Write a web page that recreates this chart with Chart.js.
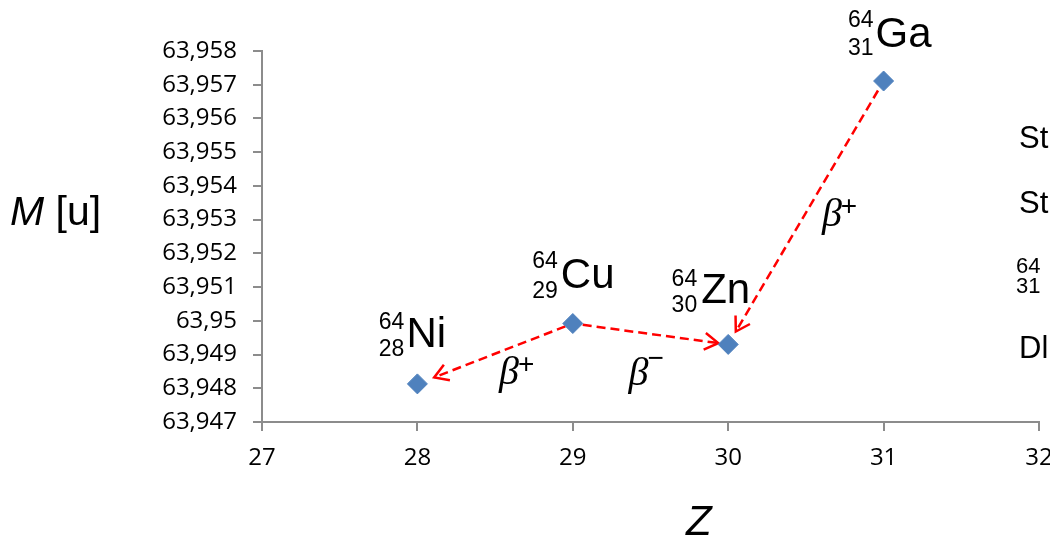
<!DOCTYPE html>
<html><head><meta charset="utf-8">
<script src="https://cdn.jsdelivr.net/npm/chart.js@4"></script>
<style>html,body{margin:0;padding:0;background:#fff;} #wrap{width:1050px;height:537px;position:relative;}</style>
</head><body><div id="wrap"><canvas id="c"></canvas></div>
<script>
// ---- data ----
const elements = ['Ni', 'Cu', 'Zn', 'Ga'];
const protonNumbers = [28, 29, 30, 31];
const massNumbers = [64, 64, 64, 64];
const atomicMasses = [63.94813, 63.94992, 63.94930, 63.95711];
const yTickValues = [63.947, 63.948, 63.949, 63.950, 63.951, 63.952, 63.953, 63.954, 63.955, 63.956, 63.957, 63.958];
const yTickLabels = ['63,947', '63,948', '63,949', '63,95', '63,951', '63,952', '63,953', '63,954', '63,955', '63,956', '63,957', '63,958'];
const xTickLabels = ['27', '28', '29', '30', '31', '32'];
const decayFrom = [1, 1, 3];
const decayTo = [0, 2, 2];
const decaySigns = ['+', '\u2212', '+'];
const sideTexts = ['St', 'St', '64', '31', 'Dl'];

// ---- styles (pixel offsets) ----
const labelStyle = [
  {sx: -11, sy: -37, nx: -13, ay: -55, zy: -28},
  {sx: -12, sy: -36, nx: -15, ay: -56, zy: -26},
  {sx: -27, sy: -41, nx: -31, ay: -58, zy: -32},
  {sx: -8, sy: -34, nx: -10, ay: -54, zy: -26}
];
const arrowStyle = [
  {start: 8, end: 18, bx: 4, by: 30},
  {start: 10, end: 10, bx: -22, by: 51},
  {start: 11, end: 15, bx: 16, by: 13}
];
const SANS = '"Liberation Sans", Arial, sans-serif';
const SERIF = '"Liberation Serif", "Times New Roman", serif';
const TICKFONT = 'Open Sans';
const AXIS = '#8C8C8C';

const annot = {
  id: 'annot',
  beforeDatasetsDraw(chart) {
    const ctx = chart.ctx, xs = chart.scales.x, ys = chart.scales.y;
    const px = i => [xs.getPixelForValue(protonNumbers[i]), ys.getPixelForValue(atomicMasses[i])];
    ctx.save();
    ctx.strokeStyle = '#FF0000';
    ctx.lineWidth = 2.5;
    decayFrom.forEach((f, k) => {
      const [x1, y1] = px(f), [x2, y2] = px(decayTo[k]);
      const dx = x2 - x1, dy = y2 - y1, L = Math.hypot(dx, dy), ux = dx / L, uy = dy / L;
      const st = arrowStyle[k];
      const sx = x1 + ux * st.start, sy = y1 + uy * st.start;
      const ex = x2 - ux * st.end, ey = y2 - uy * st.end;
      ctx.setLineDash([9, 5]);
      ctx.beginPath(); ctx.moveTo(sx, sy); ctx.lineTo(ex, ey); ctx.stroke();
      ctx.setLineDash([]);
      const a = Math.atan2(-uy, -ux);
      ctx.beginPath();
      ctx.moveTo(ex + 16 * Math.cos(a + 0.55), ey + 16 * Math.sin(a + 0.55));
      ctx.lineTo(ex, ey);
      ctx.lineTo(ex + 16 * Math.cos(a - 0.55), ey + 16 * Math.sin(a - 0.55));
      ctx.stroke();
      // beta label
      const mx = (x1 + x2) / 2 + st.bx, my = (y1 + y2) / 2 + st.by;
      ctx.fillStyle = '#000';
      ctx.textAlign = 'left'; ctx.textBaseline = 'alphabetic';
      ctx.font = 'italic 40px ' + SERIF;
      ctx.fillText('\u03B2', mx, my);
      const w = ctx.measureText('\u03B2').width;
      ctx.font = '28px ' + SANS;
      ctx.fillText(decaySigns[k], mx + w - 1, my - (decaySigns[k] === '+' ? 11 : 18));
    });
    ctx.restore();
  },
  afterDatasetsDraw(chart) {
    const ctx = chart.ctx, xs = chart.scales.x, ys = chart.scales.y;
    ctx.save();
    ctx.fillStyle = '#000';
    ctx.textBaseline = 'alphabetic';
    elements.forEach((el, i) => {
      const x = xs.getPixelForValue(protonNumbers[i]), y = ys.getPixelForValue(atomicMasses[i]);
      const o = labelStyle[i];
      ctx.font = '42px ' + SANS; ctx.textAlign = 'left';
      ctx.fillText(el, x + o.sx, y + o.sy);
      ctx.font = '23px ' + SANS; ctx.textAlign = 'right';
      ctx.fillText(String(massNumbers[i]), x + o.nx, y + o.ay);
      ctx.fillText(String(protonNumbers[i]), x + o.nx, y + o.zy);
    });
    // axis titles
    ctx.textAlign = 'left';
    ctx.font = 'italic 41px ' + SANS;
    ctx.fillText('M', 10, 225);
    const mw = ctx.measureText('M').width;
    ctx.font = '41px ' + SANS;
    ctx.fillText(' [u]', 10 + mw, 225);
    ctx.font = 'italic 42px ' + SANS;
    ctx.fillText('Z', 686, 535);
    // clipped legend text on the right
    ctx.font = '31px ' + SANS;
    ctx.fillText(sideTexts[0], 1019, 148);
    ctx.fillText(sideTexts[1], 1019, 213);
    ctx.font = '22px ' + SANS;
    ctx.fillText(sideTexts[2], 1016, 273);
    ctx.fillText(sideTexts[3], 1016, 293);
    ctx.font = '31px ' + SANS;
    ctx.fillText(sideTexts[4], 1019, 358);
    ctx.restore();
  }
};

new Chart(document.getElementById('c'), {
  type: 'scatter',
  data: {
    datasets: [{
      data: protonNumbers.map((z, i) => ({x: z, y: atomicMasses[i]})),
      pointStyle: 'rectRot',
      pointRadius: 10,
      pointHoverRadius: 10,
      backgroundColor: '#4F81BD',
      borderColor: '#4F81BD',
      borderWidth: 1
    }]
  },
  options: {
    responsive: true,
    maintainAspectRatio: false,
    animation: false,
    events: [],
    layout: {padding: {top: 51, right: 11, bottom: 0, left: 0}},
    plugins: {legend: {display: false}, tooltip: {enabled: false}},
    scales: {
      x: {
        type: 'linear', position: 'bottom',
        min: Number(xTickLabels[0]), max: Number(xTickLabels[xTickLabels.length - 1]),
        afterBuildTicks: s => { s.ticks = xTickLabels.map(t => ({value: Number(t)})); },
        ticks: {callback: (v, i) => xTickLabels[i], font: {family: TICKFONT, size: 24}, color: '#000', padding: 13, maxRotation: 0, autoSkip: false},
        grid: {drawOnChartArea: false, drawTicks: true, tickLength: 9, color: AXIS, lineWidth: 2},
        border: {color: AXIS, width: 2},
        afterFit: s => { s.height = 115; s.paddingLeft = 0; s.paddingRight = 0; }
      },
      y: {
        type: 'linear', position: 'left',
        min: yTickValues[0], max: yTickValues[yTickValues.length - 1],
        afterBuildTicks: s => { s.ticks = yTickValues.map(v => ({value: v})); },
        ticks: {callback: (v, i) => yTickLabels[i], font: {family: TICKFONT, size: 24}, color: '#000', padding: 16, autoSkip: false},
        grid: {drawOnChartArea: false, drawTicks: true, tickLength: 9, color: AXIS, lineWidth: 2},
        border: {color: AXIS, width: 2},
        afterFit: s => { s.width = 262; s.paddingTop = 0; s.paddingBottom = 0; }
      }
    }
  },
  plugins: [annot]
});
</script>
</body></html>
